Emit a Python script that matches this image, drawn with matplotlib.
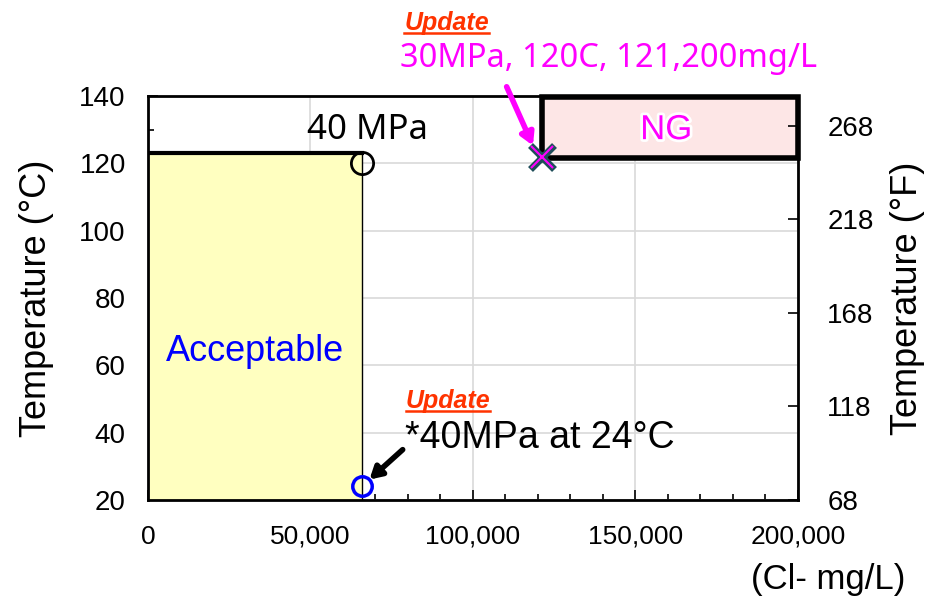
import matplotlib.pyplot as plt
from matplotlib.patches import Rectangle
from matplotlib.ticker import FuncFormatter, MultipleLocator
import matplotlib.patheffects as pe

plt.rcParams['font.family'] = ['Liberation Sans', 'DejaVu Sans']
ALT = ['Noto Sans', 'DejaVu Sans']

# data
acceptable_cl = 66000        # mg/L, right edge of acceptable zone
acceptable_top = 123         # degC
ng_cl = [121200, 200000]
ng_temp = [121.5, 139.7]
pt_40mpa = (66000, 120)
pt_40mpa_24c = (66000, 24)
pt_update = (121200, 122)
x_ticks = [0, 50000, 100000, 150000, 200000]
y_ticks_c = [20, 40, 60, 80, 100, 120, 140]
y_ticks_f = [68, 118, 168, 218, 268]

fig = plt.figure(figsize=(9.25, 6.06), dpi=100)
ax = fig.add_axes([0.16, 0.175, 0.7027, 0.6666])
ax.set_xlim(0, 200000)
ax.set_ylim(20, 140)
ax.set_xticks(x_ticks)
ax.set_yticks(y_ticks_c)
ax.xaxis.set_minor_locator(MultipleLocator(10000))
ax.yaxis.set_minor_locator(MultipleLocator(10))
ax.xaxis.set_major_formatter(FuncFormatter(lambda v, p: f'{int(v):,}'))
ax.tick_params(which='both', direction='in', width=1.2)
ax.tick_params(which='major', length=7)
ax.tick_params(which='minor', length=4)
ax.tick_params(axis='x', labelsize=19, pad=18)
ax.tick_params(axis='y', labelsize=20, pad=16)
ax.grid(True, which='major', color='#d9d9d9', lw=1.2)
ax.set_axisbelow(True)
for s in ax.spines.values():
    s.set_linewidth(2)
ax.set_ylabel('Temperature (°C)', fontsize=26, labelpad=18)

# acceptable zone
ax.add_patch(Rectangle((0, 20), acceptable_cl, acceptable_top - 20,
                       facecolor='#ffffc0', edgecolor='none', zorder=2))
ax.plot([0, acceptable_cl], [acceptable_top, acceptable_top], color='black', lw=3, zorder=3)
ax.plot([acceptable_cl, acceptable_cl], [20, acceptable_top], color='black', lw=1, zorder=3)
ax.text(33000, 64, 'Acceptable', color='#0000ff', fontsize=26, ha='center', va='center', zorder=4)

# NG zone
ax.add_patch(Rectangle((ng_cl[0], ng_temp[0]), ng_cl[1] - ng_cl[0], ng_temp[1] - ng_temp[0],
                       facecolor='#fde6e6', edgecolor='black', lw=4, zorder=3, clip_on=False))
ax.text(159500, 130, 'NG', color='#ff00ff', fontsize=25, ha='center', va='center', zorder=4,
        path_effects=[pe.withStroke(linewidth=4, foreground='white')])

# points
ax.plot(*pt_40mpa, 'o', ms=16, mfc='none', mec='black', mew=2, zorder=5, clip_on=False)
ax.text(67500, 130, '40 MPa', fontsize=25, family=ALT, ha='center', va='center', zorder=5)
ax.plot(*pt_40mpa_24c, 'o', ms=14, mfc='none', mec='#0000ff', mew=2.5, zorder=5, clip_on=False)
ax.plot(*pt_update, 'x', ms=17, mec='#1f4e5a', mew=5, zorder=6)
ax.plot(*pt_update, 'x', ms=16, mec='#ff00ff', mew=1.5, zorder=7)

# annotations
ax.annotate('', xy=(67500, 25.5), xytext=(79000, 35.5),
            arrowprops=dict(arrowstyle='-|>,head_width=0.4,head_length=0.7', color='black', lw=4),
            zorder=6)
ax.text(79000, 38.5, '*40MPa at 24°C', fontsize=27, ha='left', va='center', zorder=5)
ax.annotate('', xy=(118800, 124.5), xytext=(110000, 143.5),
            arrowprops=dict(arrowstyle='-|>,head_width=0.4,head_length=0.7', color='#ff00ff', lw=4),
            annotation_clip=False, zorder=6)
fig.text(0.432, 0.903, '30MPa, 120C, 121,200mg/L', color='#ff00ff', fontsize=23.5, family=ALT,
         ha='left', va='center')

upd = []
upd.append(fig.text(0.483, 0.962, 'Update', color='#ff3300', fontsize=18, fontweight='bold',
                    fontstyle='italic', ha='center', va='center'))
upd.append(ax.text(92300, 49.5, 'Update', color='#ff3300', fontsize=18, fontweight='bold',
                   fontstyle='italic', ha='center', va='center'))

# right axis in Fahrenheit
ax2 = ax.twinx()
ax2.set_ylim(20 * 9 / 5 + 32, 140 * 9 / 5 + 32)
ax2.set_yticks(y_ticks_f)
ax2.tick_params(direction='in', labelsize=20, length=7, width=1.2, pad=21)
ax2.set_ylabel('Temperature (°F)', fontsize=26, labelpad=12)
for s in ax2.spines.values():
    s.set_visible(False)

fig.text(0.895, 0.043, '(Cl- mg/L)', fontsize=25, ha='center', va='center')

# underline the "Update" labels
fig.canvas.draw()
r = fig.canvas.get_renderer()
inv = fig.transFigure.inverted()
for t in upd:
    bb = t.get_window_extent(r)
    (x0, y0), (x1, _) = inv.transform([(bb.x0, bb.y0 + 2), (bb.x1, bb.y0)])
    fig.add_artist(plt.Line2D([x0, x1], [y0, y0], color='#ff3300', lw=1.8, transform=fig.transFigure))

fig.savefig('out.png', dpi=100)
